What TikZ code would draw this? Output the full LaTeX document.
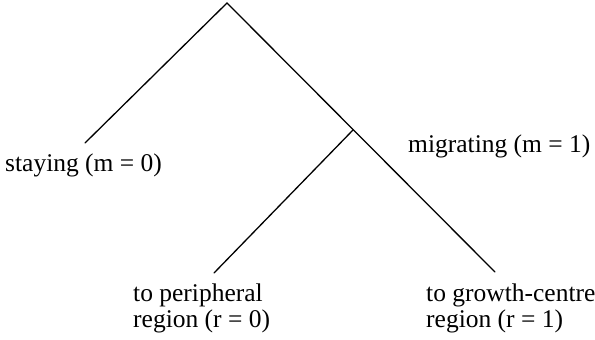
\documentclass[tikz,border=0pt]{standalone}
\usepackage{fontspec}
\setmainfont{Liberation Serif}
\usetikzlibrary{positioning}

\begin{document}
\begin{tikzpicture}[
  x=1pt, y=1pt,
  branch/.style={line width=1.3pt, line cap=round},
  lbl/.style={inner sep=0pt, anchor=base west, align=left,
    font=\fontsize{25.5}{26}\selectfont}
]
\useasboundingbox (0,0) rectangle (595,340);
% tree points
\coordinate (root) at (227,337);
\coordinate (stay) at (85,197);
\coordinate (mig) at (353,210);
\coordinate (peri) at (214,67);
\coordinate (grow) at (495,68);
\draw[branch] (stay) -- (root) -- (grow);
\draw[branch] (mig) -- (peri);
% labels
\node[lbl] (staylbl) at (5,168) {staying (m = 0)};
\node[lbl] (miglbl) at (408,187) {migrating (m = 1)};
\node[lbl] (perilbl) at (133,12) {to peripheral\\region (r = 0)};
\node[lbl] (growlbl) at (426,12) {to growth-centre\\region (r = 1)};
\end{tikzpicture}
\end{document}
